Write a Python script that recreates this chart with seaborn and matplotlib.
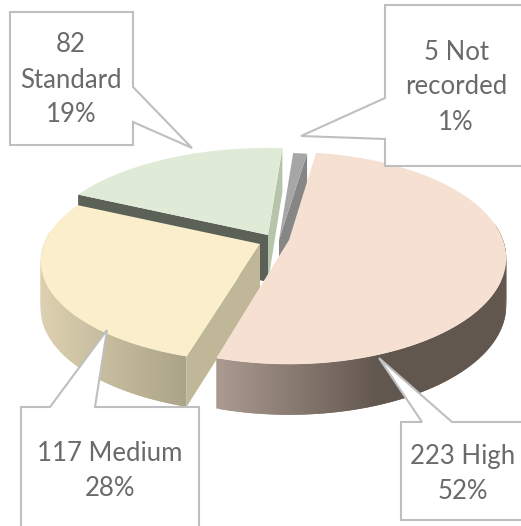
import numpy as np
import matplotlib
matplotlib.use("Agg")
import matplotlib.pyplot as plt
import seaborn as sns

# ----------------------------------------------------------
# DATA
# ----------------------------------------------------------
categories = ["High", "Medium", "Standard", "Not recorded"]
counts = [223, 117, 82, 5]
percents = [52, 28, 19, 1]

# ----------------------------------------------------------
# STYLE
# ----------------------------------------------------------
top_colors = ["#f6e0d2", "#faeecb", "#e0ebd7", "#a6a6a6"]
cut_colors = ["#a8968c", "#c0b798", "#b6c4aa", "#868686"]
dark_cut = "#5b6156"
apex = [(289, 240), (260, 244), (268, 235), (279, 240)]
radius_x = [214, 216, 225, 222]
radius_y = [103, 98, 102, 102]
wall_left = {"High": "#ab9a90", "Medium": "#dbcfae"}
wall_right = {"High": "#62574f", "Medium": "#aba388"}
start_angle = 8.5
persp = 0.171
depth = 47
line_color = "#bfbfbf"
text_color = "#6a6a6a"

sns.set_theme(style="white")
plt.rcParams["font.family"] = ["Lato", "DejaVu Sans"]

fig, ax = plt.subplots(figsize=(5.21, 5.26), dpi=100)
ax.set_position([0, 0, 1, 1])
ax.set_xlim(0, 521)
ax.set_ylim(526, 0)
ax.axis("off")


def project(i, theta):
    # tilted disc with a little perspective, theta clockwise from the far side
    t = np.radians(theta)
    w = 1 + persp * np.cos(t)
    return apex[i][0] + radius_x[i] * np.sin(t) / w, apex[i][1] - radius_y[i] * np.cos(t) / w


def wall_depth(theta):
    return depth / (1 + 0.07 * np.cos(np.radians(theta)))


def mix(c1, c2, f):
    c1 = np.array(matplotlib.colors.to_rgb(c1))
    c2 = np.array(matplotlib.colors.to_rgb(c2))
    return tuple(c1 + (c2 - c1) * min(max(f, 0), 1))


# slice angles come from the counts
shares = np.array(counts) / sum(counts) * 360
starts = start_angle + np.concatenate([[0], np.cumsum(shares)[:-1]])
ends = starts + shares


def draw_cut(i, theta, color, z):
    c = apex[i]
    x, y = project(i, theta)
    ax.fill([c[0], x, x, c[0]],
            [c[1], y, y + wall_depth(theta), c[1] + depth],
            color=color, lw=0, zorder=z)


def draw_rim(i, fade_end, z):
    thetas = np.linspace(starts[i], ends[i], 200)
    xs, ys = project(i, thetas)
    name = categories[i]
    x_from, x_to = fade_end
    for k in range(len(thetas) - 2):
        t0, t2 = thetas[k], thetas[k + 2]
        if np.cos(np.radians(t0)) > 0.12 and np.cos(np.radians(t2)) > 0.12:
            continue
        f = (xs[k + 1] - x_from) / (x_to - x_from)
        col = mix(wall_left[name], wall_right[name], f)
        ax.fill([xs[k], xs[k + 2], xs[k + 2], xs[k]],
                [ys[k], ys[k + 2], ys[k + 2] + wall_depth(t2), ys[k] + wall_depth(t0)],
                facecolor=col, lw=0, zorder=z)


def draw_top(i, z):
    thetas = np.linspace(starts[i], ends[i], 160)
    xs, ys = project(i, thetas)
    ax.fill(np.r_[apex[i][0], xs], np.r_[apex[i][1], ys],
            color=top_colors[i], lw=0, zorder=z)


# back to front
draw_cut(3, ends[3], cut_colors[3], 1)
draw_top(3, 2)
draw_cut(2, ends[2], cut_colors[2], 3)
draw_cut(2, starts[2], dark_cut, 3)
draw_top(2, 4)
draw_rim(1, (43, 186), 5)
draw_cut(1, starts[1], cut_colors[1], 5)
draw_top(1, 6)
draw_rim(0, (215, 375), 7)
draw_top(0, 8)

# ----------------------------------------------------------
# CALLOUTS
# ----------------------------------------------------------
callouts = [
    [(10, 12), (133, 12), (133, 87), (192, 148), (133, 122), (133, 145), (10, 145)],
    [(385, 5), (530, 5), (530, 166), (385, 166), (385, 139), (301, 136), (385, 98)],
    [(401, 422), (422, 422), (379, 358), (452, 422), (530, 422), (530, 520), (401, 520)],
    [(21, 407), (50, 407), (107, 330), (95, 407), (199, 407), (199, 535), (21, 535)],
]
for pts in callouts:
    ax.add_patch(plt.Polygon(pts, closed=True, facecolor="white",
                             edgecolor=line_color, lw=1.5, zorder=10))

label_text = [
    f"{counts[0]} {categories[0]}\n{percents[0]}%",
    f"{counts[1]} {categories[1]}\n{percents[1]}%",
    f"{counts[2]}\n{categories[2]}\n{percents[2]}%",
    f"{counts[3]} Not\nrecorded\n{percents[3]}%",
]
label_pos = [(463, 474), (110, 471), (71, 80), (456, 87)]
for txt, (x, y) in zip(label_text, label_pos):
    ax.text(x, y, txt, ha="center", va="center", fontsize=18.5, color=text_color,
            linespacing=1.5, zorder=11)

plt.savefig("out.png", dpi=100)
